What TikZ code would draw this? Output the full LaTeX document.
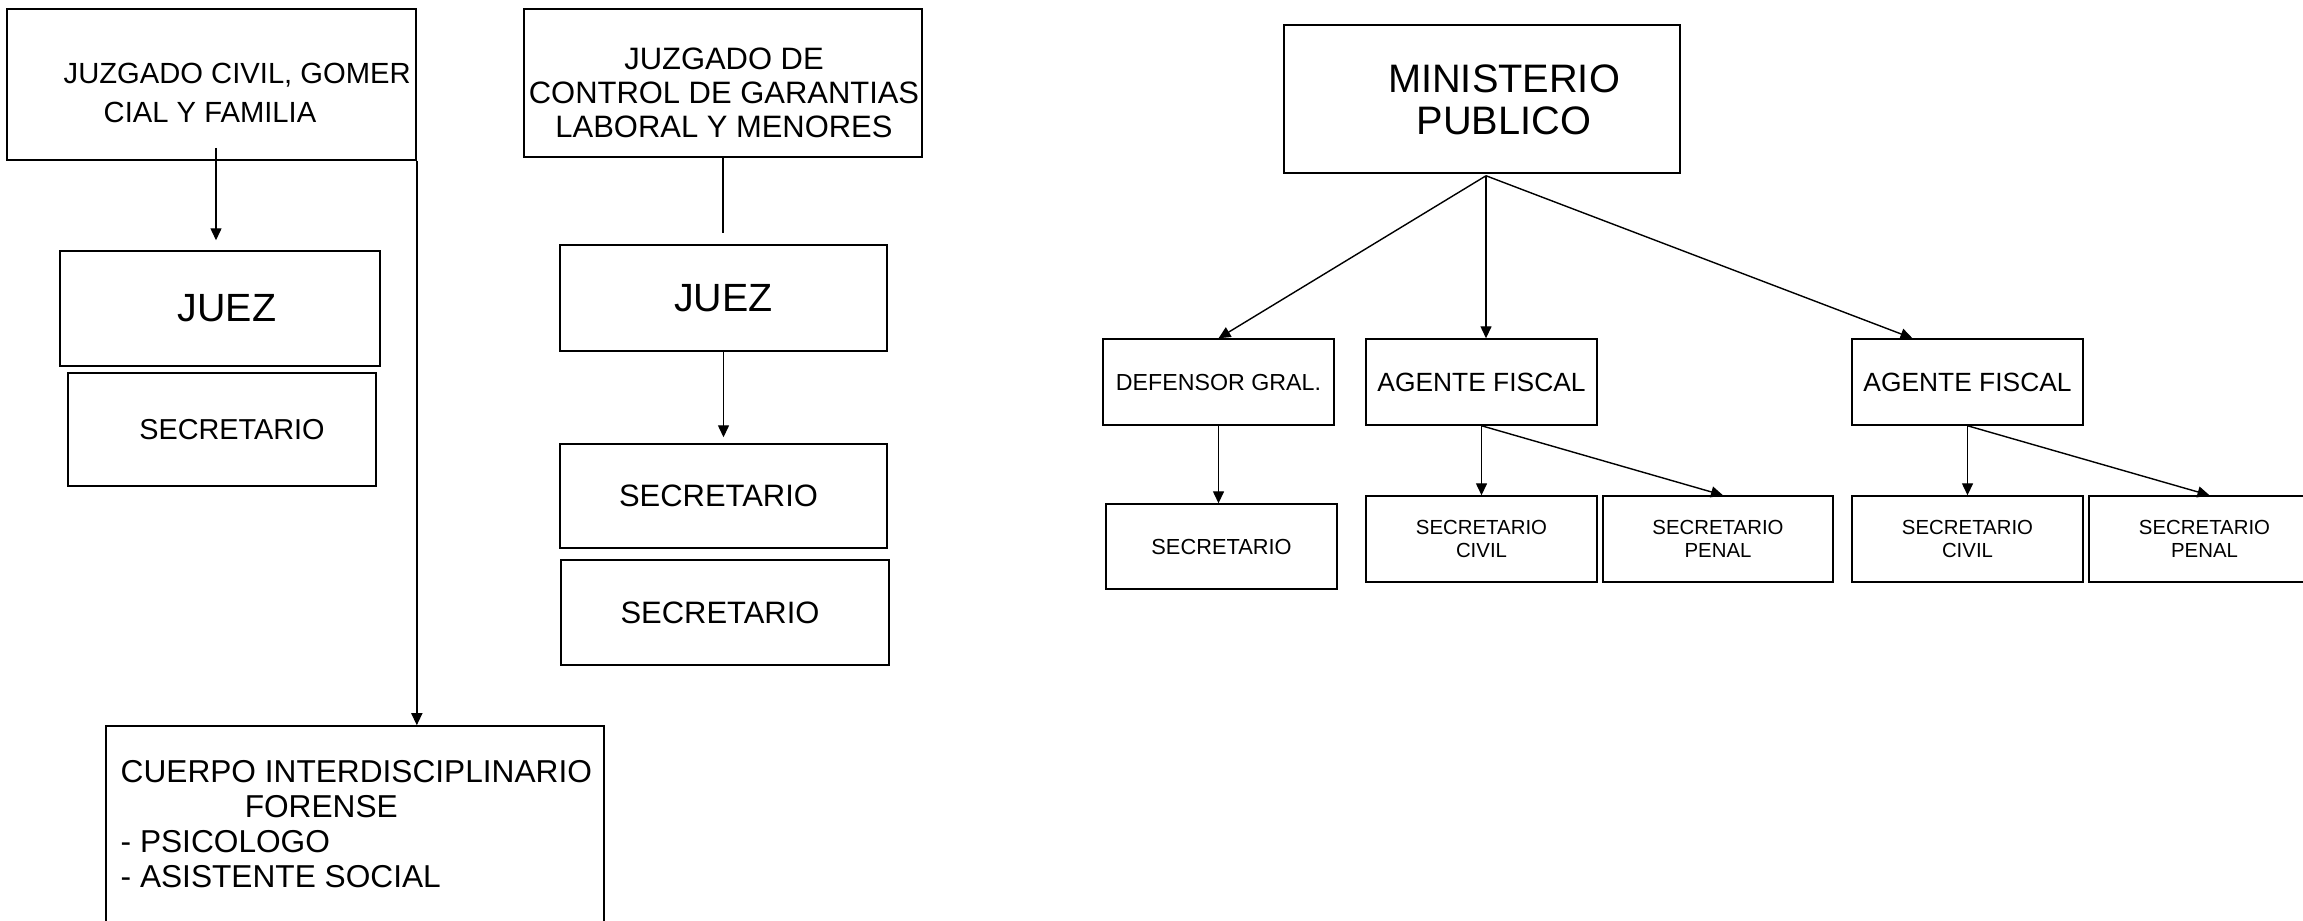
\documentclass[tikz,border=0pt]{standalone}
\usepackage{fontspec}
\setmainfont{Liberation Sans}
\usepackage{tikz}
\usetikzlibrary{shapes,arrows.meta}

\tikzset{
    caja/.style={draw, rectangle, inner sep=0pt, align=center, line width=0.4pt},
    texto/.style={inner sep=0pt},
    flecha/.style={-{Triangle[length=1.2mm,width=1.1mm]}, line width=0.4pt},
    linea/.style={line width=0.4pt}
}

\begin{document}
\begin{tikzpicture}[x=0.01cm, y=-0.01cm]
                % page frame
                \useasboundingbox (0,0) rectangle (2303,920);
                \clip (0,0) rectangle (2303,920);

                % juzgado civil
                \node[caja, minimum width=4.09cm, minimum height=1.51cm] (jcf) at (211.5,84.5) {};
                \node[texto, anchor=west, align=left, font=\fontsize{8.3}{11.3}\selectfont] (jcft) at (63,93)
                    {JUZGADO CIVIL, GOMER\\\hspace*{0.4cm}CIAL Y FAMILIA};
                \node[caja, minimum width=3.2cm, minimum height=1.15cm, font=\fontsize{11.2}{12}\selectfont] (jez1) at (220,308.5) {\hspace*{0.14cm}JUEZ};
                \node[caja, minimum width=3.08cm, minimum height=1.13cm, font=\fontsize{8.2}{10}\selectfont] (sec1) at (222,429.5) {\hspace*{0.2cm}SECRETARIO};

                % cuerpo forense
                \node[caja, minimum width=4.98cm, minimum height=2.6cm] (cif) at (355,856) {};
                \node[texto, anchor=west, align=left, font=\fontsize{9}{10}\selectfont] (cift) at (120,824)
                    {CUERPO INTERDISCIPLINARIO\\\hspace*{1.24cm}FORENSE\\- PSICOLOGO\\- ASISTENTE SOCIAL};

                % juzgado de control
                \node[caja, minimum width=3.98cm, minimum height=1.48cm] (jdc) at (723,83) {};
                \node[texto, align=center, font=\fontsize{8.8}{9.6}\selectfont] (jdct) at (724,93)
                    {JUZGADO DE\\CONTROL DE GARANTIAS\\LABORAL Y MENORES};
                \node[caja, minimum width=3.27cm, minimum height=1.06cm, font=\fontsize{11.2}{12}\selectfont] (jez2) at (723.5,298) {JUEZ};
                \node[caja, minimum width=3.27cm, minimum height=1.04cm, font=\fontsize{8.8}{10}\selectfont] (sec2) at (723.5,496) {SECRETARIO\hspace*{0.1cm}};
                \node[caja, minimum width=3.28cm, minimum height=1.05cm, font=\fontsize{8.8}{10}\selectfont] (sec3) at (725,612.5) {SECRETARIO\hspace*{0.1cm}};

                % ministerio publico
                \node[caja, minimum width=3.96cm, minimum height=1.48cm] (mp) at (1482,99) {};
                \node[texto, align=center, font=\fontsize{11.3}{12.1}\selectfont] (mpt) at (1504,100) {MINISTERIO\\PUBLICO};
                \node[caja, minimum width=2.31cm, minimum height=0.86cm, font=\fontsize{6.6}{8}\selectfont] (def) at (1218.5,382) {DEFENSOR GRAL.};
                \node[caja, minimum width=2.31cm, minimum height=0.86cm, font=\fontsize{7.5}{9}\selectfont] (ag1) at (1481.5,382) {AGENTE FISCAL};
                \node[caja, minimum width=2.31cm, minimum height=0.86cm, font=\fontsize{7.5}{9}\selectfont] (ag2) at (1967.5,382) {AGENTE FISCAL};
                \node[caja, minimum width=2.31cm, minimum height=0.85cm, font=\fontsize{6.2}{8}\selectfont] (secd) at (1221.5,546.5) {SECRETARIO};
                \node[caja, minimum width=2.31cm, minimum height=0.86cm, font=\fontsize{5.8}{6.7}\selectfont] (sc1) at (1481.5,539) {SECRETARIO\\CIVIL};
                \node[caja, minimum width=2.30cm, minimum height=0.86cm, font=\fontsize{5.8}{6.7}\selectfont] (sp1) at (1718,539) {SECRETARIO\\PENAL};
                \node[caja, minimum width=2.31cm, minimum height=0.86cm, font=\fontsize{5.8}{6.7}\selectfont] (sc2) at (1967.5,539) {SECRETARIO\\CIVIL};
                \node[caja, minimum width=2.31cm, minimum height=0.86cm, font=\fontsize{5.8}{6.7}\selectfont] (sp2) at (2204.5,539) {SECRETARIO\\PENAL};

                % left connectors
                \coordinate (jcfa) at ([xshift=0.45mm,yshift=1.3mm]jcf.south);
                \draw[flecha, shorten >=1mm] (jcfa) -- (jcfa |- jez1.north);
                \draw[flecha] (jcf.south east) -- (jcf.south east |- cif.north);
                \draw[linea, shorten >=1.1mm] (jdc.south) -- (jdc.south |- jez2.north);
                \draw[flecha, shorten >=0.6mm] (jez2.south) -- (jez2.south |- sec2.north);

                % ministerio connectors
                \coordinate (mpa) at ([xshift=0.4mm,yshift=-0.2mm]mp.south);
                \draw[flecha] (mpa) -- (def.north);
                \draw[flecha] (mpa) -- (mpa |- ag1.north);
                \draw[flecha] (mpa) -- ([xshift=-5.5mm]ag2.north);
                \draw[flecha] (def.south) -- (def.south |- secd.north);
                \draw[flecha] (ag1.south) -- (sc1.north);
                \draw[flecha] (ag1.south) -- ([xshift=0.5mm]sp1.north);
                \draw[flecha] (ag2.south) -- (sc2.north);
                \draw[flecha] (ag2.south) -- ([xshift=0.5mm]sp2.north);
            \end{tikzpicture}
\end{document}
